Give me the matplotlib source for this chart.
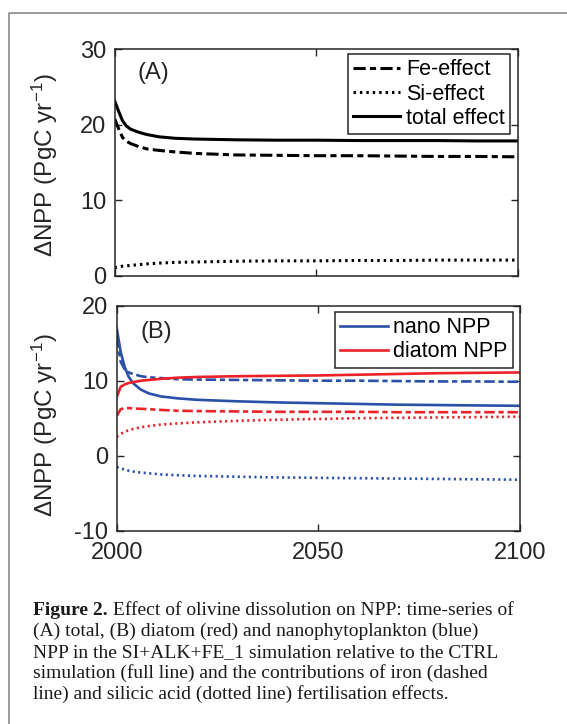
import matplotlib
matplotlib.use("Agg")
import matplotlib.pyplot as plt
from matplotlib.lines import Line2D

plt.rcParams['font.family'] = ['Liberation Sans', 'DejaVu Sans']
plt.rcParams['mathtext.fontset'] = 'custom'
plt.rcParams['mathtext.rm'] = 'Liberation Sans'
plt.rcParams['mathtext.it'] = 'Liberation Sans:italic'
plt.rcParams['mathtext.bf'] = 'Liberation Sans:bold'
plt.rcParams['axes.unicode_minus'] = False

# ---------------- data ----------------
years = [2000, 2001, 2002, 2003, 2004, 2006, 2008, 2011, 2015, 2020,
         2030, 2040, 2050, 2060, 2070, 2080, 2090, 2100]

# Panel A: total NPP effect (PgC/yr)
total_effect = [23.2, 21.8, 20.5, 19.8, 19.4, 19.0, 18.7, 18.4, 18.2, 18.1,
                18.0, 17.95, 17.95, 17.9, 17.9, 17.9, 17.85, 17.85]
fe_effect = [20.8, 19.5, 18.3, 17.8, 17.5, 17.1, 16.8, 16.6, 16.4, 16.2,
             16.0, 15.95, 15.9, 15.9, 15.85, 15.8, 15.8, 15.75]
si_effect = [1.1, 1.2, 1.3, 1.35, 1.4, 1.5, 1.6, 1.7, 1.8, 1.85,
             1.95, 2.0, 2.0, 2.05, 2.05, 2.1, 2.1, 2.1]

# Panel B: nanophytoplankton and diatom NPP
nano_total = [17.0, 13.8, 11.8, 10.5, 9.7, 8.8, 8.3, 7.9, 7.65, 7.45,
              7.25, 7.1, 7.0, 6.9, 6.8, 6.75, 6.7, 6.65]
nano_fe = [15.8, 12.5, 11.5, 11.1, 10.9, 10.6, 10.45, 10.35, 10.2, 10.15,
           10.1, 10.05, 10.0, 10.0, 9.95, 9.9, 9.9, 9.85]
nano_si = [-1.5, -1.7, -1.85, -2.0, -2.1, -2.25, -2.35, -2.5, -2.6, -2.7,
           -2.8, -2.9, -2.95, -3.0, -3.05, -3.1, -3.15, -3.2]
diatom_total = [7.8, 9.2, 9.5, 9.7, 9.8, 10.0, 10.1, 10.25, 10.4, 10.5,
                10.6, 10.65, 10.7, 10.8, 10.9, 11.0, 11.05, 11.1]
diatom_fe = [5.3, 6.2, 6.35, 6.35, 6.3, 6.25, 6.2, 6.1, 6.0, 5.95,
             5.9, 5.85, 5.85, 5.85, 5.8, 5.8, 5.8, 5.8]
diatom_si = [2.5, 2.9, 3.2, 3.4, 3.55, 3.8, 3.95, 4.15, 4.3, 4.45,
             4.65, 4.8, 4.9, 5.0, 5.05, 5.1, 5.15, 5.2]

xticks = [2000, 2050, 2100]
yticks_a = [0, 10, 20, 30]
yticks_b = [-10, 0, 10, 20]

labels_a = ['Fe-effect', 'Si-effect', 'total effect']
labels_b = ['nano NPP', 'diatom NPP']

caption_bold = 'Figure 2.'
caption_lines = [
    ' Effect of olivine dissolution on NPP: time-series of',
    '(A) total, (B) diatom (red) and nanophytoplankton (blue)',
    'NPP in the SI+ALK+FE_1 simulation relative to the CTRL',
    'simulation (full line) and the contributions of iron (dashed',
    'line) and silicic acid (dotted line) fertilisation effects.',
]

# ---------------- style ----------------
W, H = 567, 724
fig = plt.figure(figsize=(W / 100, H / 100), dpi=100)
axcol = '#262626'
blue = '#2a50a8'
red = '#ea2229'
dash_fe = (0, (4, 1.4, 2, 1.4))
dot_si = (0, (0.8, 1.3))


def px_axes(l, t, r, b):
    return fig.add_axes([l / W, 1 - b / H, (r - l) / W, (b - t) / H])


def style(ax, ylim, yticks):
    ax.set_xlim(2000, 2100)
    ax.set_ylim(*ylim)
    ax.set_xticks(xticks)
    ax.set_yticks(yticks)
    ax.tick_params(direction='in', length=5, width=1, colors=axcol,
                   labelsize=17, top=True, right=True)
    ax.tick_params(axis='y', pad=6)
    ax.tick_params(axis='x', pad=8)
    for s in ax.spines.values():
        s.set_color(axcol)
        s.set_linewidth(1.1)
    ax.set_ylabel('ΔNPP (PgC yr$^{-1}$)', fontsize=17.5, color=axcol)


def legend(ax, right, top):
    leg = ax.legend(loc='upper right', bbox_to_anchor=(right / W, 1 - top / H),
                    bbox_transform=fig.transFigure, borderaxespad=0,
                    fontsize=15.5, handlelength=2.2, handletextpad=0.25,
                    labelspacing=0.15, borderpad=0.25, fancybox=False,
                    framealpha=1, edgecolor=axcol)
    leg.get_frame().set_linewidth(1.1)
    return leg


axA = px_axes(114.5, 49, 517.5, 276)
axA.plot(years, fe_effect, color='black', lw=2.2, ls=dash_fe, label=labels_a[0])
axA.plot(years, si_effect, color='black', lw=2.2, ls=dot_si, label=labels_a[1])
axA.plot(years, total_effect, color='black', lw=2.2, ls='-', label=labels_a[2])
style(axA, (0, 30), yticks_a)
axA.set_xticklabels([])
axA.yaxis.set_label_coords(-0.136, 0.49)
axA.text(0.058, 0.894, '(A)', transform=axA.transAxes, fontsize=17,
         color=axcol, va='center', ha='left')
legend(axA, 510, 54)

axB = px_axes(116.7, 305.7, 520, 530.7)
axB.plot(years, nano_total, color=blue, lw=1.9, ls='-', label=labels_b[0])
axB.plot(years, nano_fe, color=blue, lw=1.9, ls=dash_fe)
axB.plot(years, nano_si, color=blue, lw=1.9, ls=dot_si)
axB.plot(years, diatom_total, color=red, lw=1.9, ls='-', label=labels_b[1])
axB.plot(years, diatom_fe, color=red, lw=1.9, ls=dash_fe)
axB.plot(years, diatom_si, color=red, lw=1.9, ls=dot_si)
style(axB, (-10, 20), yticks_b)
axB.yaxis.set_label_coords(-0.141, 0.47)
axB.text(0.058, 0.883, '(B)', transform=axB.transAxes, fontsize=17,
         color=axcol, va='center', ha='left')
legend(axB, 512.7, 311.7)

# outer frame
frame = Line2D([8.5 / W, 8.5 / W, 1.0], [0.0, 1 - 13.3 / H, 1 - 13.3 / H],
               transform=fig.transFigure, color='#8a8a8a', lw=1.2)
fig.add_artist(frame)

# caption
cap_size = 14.0
x0 = 33.3 / W
baselines = [615.3, 636.3, 657.3, 678.3, 699.3]
tb = fig.text(x0, 1 - baselines[0] / H, caption_bold, fontsize=cap_size,
              fontweight='bold', family='Liberation Serif', va='baseline',
              ha='left', color='#1a1a1a')
fig.canvas.draw()
ext = tb.get_window_extent()
fig.text(ext.x1 / W, 1 - baselines[0] / H, caption_lines[0], fontsize=cap_size,
         family='Liberation Serif', va='baseline', ha='left', color='#1a1a1a')
for line, yb in zip(caption_lines[1:], baselines[1:]):
    fig.text(x0, 1 - yb / H, line, fontsize=cap_size, family='Liberation Serif',
             va='baseline', ha='left', color='#1a1a1a')

fig.savefig('out.png', dpi=100)
